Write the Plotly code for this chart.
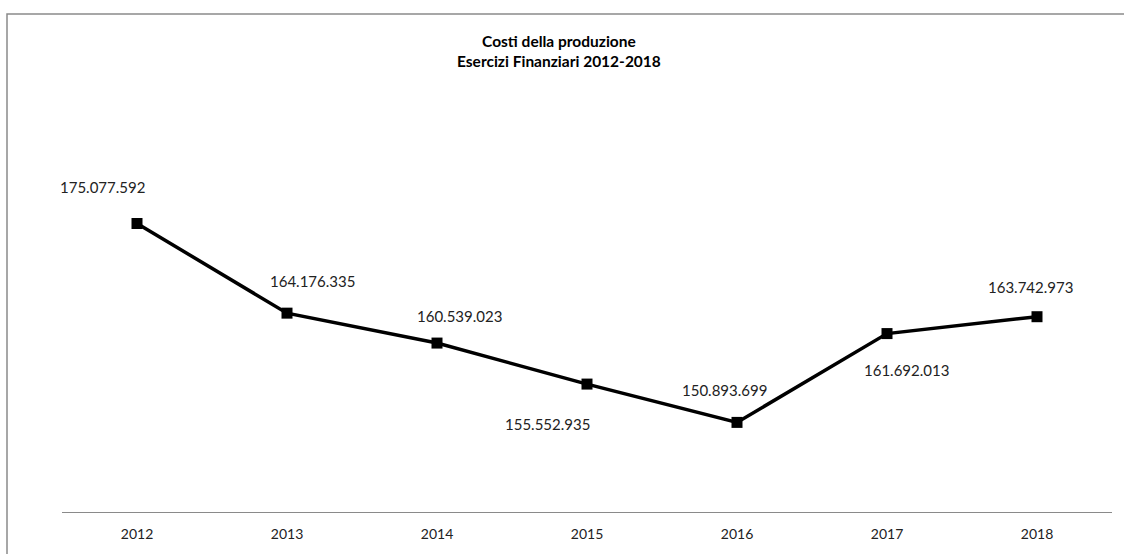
import plotly.graph_objects as go

years = ["2012", "2013", "2014", "2015", "2016", "2017", "2018"]
costs = [175077592, 164176335, 160539023, 155552935, 150893699, 161692013, 163742973]
labels = ["175.077.592", "164.176.335", "160.539.023", "155.552.935", "150.893.699", "161.692.013", "163.742.973"]
label_dx = [-35, 25, 22, -40, -13, 19, -7]
label_dy = [36, 32, 27, -40, 32, -36, 30]

W, H = 1124, 554
FONT = "Lato, Carlito, Calibri, sans-serif"

fig = go.Figure()
fig.add_trace(go.Scatter(
    x=years, y=costs, mode="lines+markers",
    line=dict(color="black", width=3.5),
    marker=dict(symbol="square", size=11, color="black"),
    hoverinfo="skip", showlegend=False,
))

for i, (v, t, dx, dy) in enumerate(zip(costs, labels, label_dx, label_dy)):
    fig.add_annotation(x=i, y=v, text=t, showarrow=False,
                       xshift=dx, yshift=dy,
                       font=dict(family=FONT, size=15, color="#222"))

fig.add_annotation(
    xref="paper", yref="paper", x=0.4735, y=1.0, yanchor="bottom", xanchor="center",
    yshift=111,
    text="<b>Costi della produzione<br>Esercizi Finanziari 2012-2018</b>",
    showarrow=False, align="center",
    font=dict(family=FONT, size=15.5, color="black"),
)

ml, mr, mt, mb = 62, 12, 183, 40
pw = W - ml - mr
ph = H - mt - mb
# outer border (chart frame, partially cropped)
fig.add_shape(type="rect", xref="paper", yref="paper",
              x0=(7 - ml) / pw, x1=(W + 10 - ml) / pw,
              y0=-(mb + 10) / ph, y1=(H - 13 - mb) / ph,
              line=dict(color="#8a8a8a", width=1.5), layer="below")

fig.update_layout(
    width=W, height=H,
    margin=dict(l=ml, r=mr, t=mt, b=mb),
    paper_bgcolor="white", plot_bgcolor="white",
    xaxis=dict(type="category", showgrid=False, showline=True,
               linecolor="#8a8a8a", linewidth=1, ticks="",
               ticklabelstandoff=9,
               tickfont=dict(family=FONT, size=14, color="#222"),
               range=[-0.5, 6.5], fixedrange=True),
    yaxis=dict(range=[140e6, 180e6], visible=False, showgrid=False, fixedrange=True),
)

fig.write_html("out.html", config={"displayModeBar": False})
with open("out.html", encoding="utf-8") as f:
    html = f.read()
html = html.replace("<body>", '<body style="margin:0;padding:0;">', 1)
with open("out.html", "w", encoding="utf-8") as f:
    f.write(html)
